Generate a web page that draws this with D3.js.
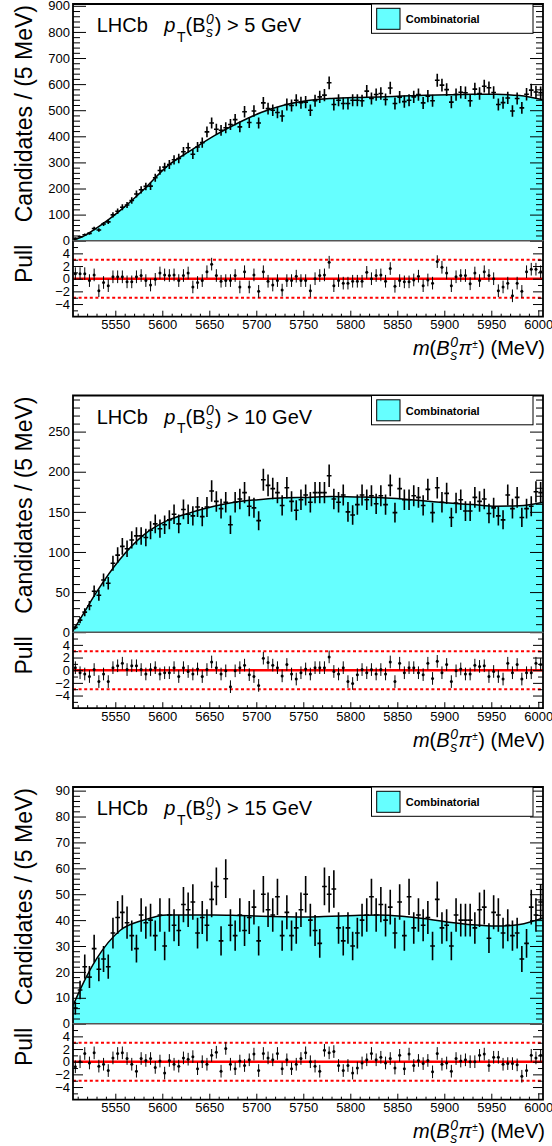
<!DOCTYPE html>
<html>
<head>
<meta charset="utf-8">
<script src="https://cdn.jsdelivr.net/npm/d3@7"></script>
<style>
  body { margin: 0; background: #fff; }
  svg { display: block; font-family: "Liberation Sans", Arial, Helvetica, sans-serif; }
</style>
</head>
<body>
<svg id="chart" width="552" height="1146"></svg>
<script>
// --- binning: 100 bins of 5 MeV from 5505 to 6005 ---
const massLo = 5505, massHi = 6005, binWidth = 5;
const binCentres = d3.range(massLo + binWidth / 2, massHi, binWidth);

// candidates per bin
const counts5 = [
  9, 15, 23, 28, 47, 41, 64, 72, 99, 113,
  128, 137, 154, 179, 195, 208, 209, 241, 269, 282,
  292, 310, 315, 341, 356, 331, 359, 376, 417, 451,
  427, 423, 433, 445, 464, 436, 494, 453, 497, 451,
  528, 506, 500, 491, 478, 522, 518, 538, 529, 531,
  500, 536, 551, 558, 605, 522, 538, 526, 526, 538,
  538, 536, 573, 545, 560, 564, 541, 585, 526, 550,
  533, 538, 551, 560, 528, 554, 536, 615, 596, 579,
  531, 560, 569, 567, 536, 581, 564, 592, 586, 568,
  522, 529, 547, 497, 545, 509, 561, 577, 570, 567
];
const counts10 = [
  6, 15, 25, 33, 51, 46, 65, 61, 86, 96,
  107, 104, 115, 120, 120, 118, 127, 135, 129, 134,
  140, 147, 135, 153, 147, 145, 156, 144, 156, 176,
  163, 154, 162, 134, 162, 166, 174, 157, 155, 139,
  190, 183, 179, 174, 158, 180, 163, 152, 165, 171,
  162, 174, 174, 174, 195, 166, 162, 171, 150, 146,
  159, 171, 165, 170, 160, 170, 159, 183, 149, 179,
  165, 165, 170, 168, 158, 178, 149, 180, 162, 173,
  143, 161, 165, 151, 151, 168, 163, 166, 148, 155,
  145, 140, 171, 154, 168, 143, 154, 157, 175, 174
];
const counts15 = [
  6, 13, 22, 18, 29, 21, 25, 22, 35, 41,
  43, 39, 34, 29, 42, 39, 40, 34, 42, 30,
  42, 38, 36, 46, 44, 47, 35, 41, 38, 48,
  53, 32, 56, 38, 34, 42, 36, 41, 45, 32,
  50, 44, 42, 49, 34, 43, 34, 37, 44, 50,
  40, 36, 31, 53, 50, 52, 37, 32, 37, 30,
  35, 40, 42, 49, 42, 46, 40, 45, 35, 47,
  34, 49, 37, 42, 38, 41, 30, 48, 37, 38,
  30, 42, 40, 40, 40, 37, 44, 45, 33, 43,
  42, 35, 38, 34, 35, 25, 31, 45, 42, 47
];

// pulls per bin
const pulls5 = [
  0.8, 0.8, 0.8, -0.3, 0.6, -1.9, -0.6, -1.1, 0.3, 0.3,
  0.3, -0.5, -0.5, 0.3, 0.5, -0.3, -1.0, -0.1, 0.9, 0.6,
  0.5, 0.6, -0.3, 0.5, 0.9, -1.3, -0.6, -0.3, 1.1, 2.3,
  0.5, -0.4, -0.3, -0.3, 0.5, -1.3, 1.1, -1.3, 0.6, -2.0,
  1.1, -0.4, -1.0, -0.3, -1.8, -0.3, -0.3, 0.4, -0.3, -0.3,
  -1.9, 0.0, 0.5, 0.6, 2.6, -1.1, -0.3, -0.7, -0.7, -0.4,
  -0.4, -0.4, 1.0, 0.0, 0.5, 0.6, -0.4, 1.6, -1.2, -0.3,
  -0.5, -0.5, -0.2, 0.4, -1.1, -0.2, -0.7, 2.7, 1.8, 0.9,
  -1.1, 0.3, 0.5, 0.5, -0.8, 0.9, -0.3, 1.1, 0.5, 0.0,
  -1.9, -1.3, -0.7, -2.7, -0.7, -2.0, 1.1, 1.5, 1.5, 1.1
];
const pulls10 = [
  0.4, -0.4, -0.6, -1.0, 0.1, -1.8, -0.6, -1.8, 0.4, 0.7,
  1.1, 0.1, 0.7, 0.7, 0.1, -0.6, 0.1, 0.4, -0.6, -0.4,
  -0.4, 0.4, -1.0, 0.4, -0.2, -0.6, 0.2, -1.0, 0.1, 1.3,
  0.4, -0.6, -0.1, -2.6, -0.1, 0.4, 0.8, -0.7, -1.0, -2.4,
  1.9, 1.2, 0.8, 0.4, -0.9, 0.9, -0.6, -1.4, -0.4, 0.2,
  -0.6, 0.4, 0.4, 0.4, 2.1, -0.2, -0.6, 0.4, -1.8, -2.1,
  -0.7, 0.1, -0.4, 0.1, -0.6, 0.1, -0.6, 1.3, -1.8, 1.1,
  -0.4, 0.4, 0.4, -0.4, -0.7, 1.1, -1.3, 1.4, -0.4, 0.9,
  -1.8, -0.1, 0.2, -0.6, -0.6, 0.8, 0.6, 0.7, -1.0, -0.2,
  -1.0, -1.4, 1.1, -0.4, 0.9, -1.4, -0.4, -0.4, 1.1, 0.9
];
const pulls15 = [
  -0.8, 0.0, 1.3, -0.2, 1.4, -0.7, -0.4, -1.4, 0.6, 1.3,
  1.4, 0.5, -0.4, -1.5, 0.5, 0.2, 0.5, -0.9, 0.1, -1.8,
  0.2, -0.4, -0.7, 0.6, 0.4, 0.8, -1.1, 0.0, -0.4, 1.0,
  1.5, -1.5, 2.1, -0.4, -1.1, 0.1, -0.6, 0.3, 1.2, -1.4,
  1.3, 0.6, 0.3, 1.3, -1.1, 0.3, -1.1, -0.4, 0.5, 1.4,
  0.0, -0.7, -1.5, 1.8, 1.4, 1.6, -0.6, -1.4, -0.6, -1.8,
  -1.0, -0.2, 0.3, 1.3, 0.3, 0.7, -0.2, 0.5, -1.0, 1.0,
  -1.1, 1.2, -0.6, 0.2, -0.3, 0.2, -1.6, 1.3, -0.4, -0.2,
  -1.5, 0.5, 0.1, 0.3, 0.0, 0.0, 1.0, 1.2, -0.6, 0.7,
  0.7, -0.4, -0.3, -0.3, -0.5, -2.3, -1.4, 1.0, 0.6, 1.0
];

// fitted combinatorial shape, sampled at these masses
const fitMass = [5505, 5515, 5530, 5555, 5580, 5605, 5630, 5655, 5680, 5705, 5730,
                 5755, 5780, 5805, 5830, 5855, 5880, 5905, 5930, 5955, 5980, 6005];
const fit5  = [2, 15, 48, 115, 195, 285, 345, 402, 450, 491, 520,
               537, 545, 549, 551, 554, 557, 559, 561, 561, 556, 540];
const fit10 = [2, 21, 50, 91, 121, 139, 149, 157, 162.5, 165.5, 167.5,
               168, 169, 168.5, 168, 166, 163.5, 161, 159, 157, 157.5, 162];
const fit15 = [7, 15, 25, 36, 40, 42, 42, 42, 41.8, 41.5, 41.3,
               41.2, 41.5, 41.8, 42, 41.5, 40.5, 39.2, 38.2, 37.7, 38.3, 40.8];

const ptCuts = ["5", "10", "15"];
const yMaxes = [907, 295, 91.4];
const yMajorSteps = [100, 50, 10];
const yMinorSteps = [20, 10, 2];
const xTickLabels = [5550, 5600, 5650, 5700, 5750, 5800, 5850, 5900, 5950, 6000];
const pullTickLabels = [4, 2, 0, -2, -4];
const legendLabel = "Combinatorial";

const panels = [
  { cut: ptCuts[0], counts: counts5, pulls: pulls5, fit: fit5 },
  { cut: ptCuts[1], counts: counts10, pulls: pulls10, fit: fit10 },
  { cut: ptCuts[2], counts: counts15, pulls: pulls15, fit: fit15 }
].map((p, k) => ({ ...p, yMax: yMaxes[k], major: yMajorSteps[k], minor: yMinorSteps[k] }));

// --- layout ---
const left = 73, right = 543;
const panelStep = 391.5, padTop = 4, mainH = 236.7, pullH = 76;
const cyan = "#66ffff";

const svg = d3.select("#chart");
const x = d3.scaleLinear().domain([massLo, massHi]).range([left, right]);

// one <text> made of tspans laid out left to right; {stack:true} reuses the previous start x
function richText(parent, parts) {
  const t = parent.append("text");
  let cursor = 0, prevStart = 0, prevEnd = 0;
  parts.forEach(pt => {
    const start = pt.stack ? prevStart : cursor + (pt.gap || 0);
    const s = t.append("tspan")
      .attr("x", start).attr("y", pt.dy || 0)
      .attr("font-size", pt.size)
      .text(pt.t);
    if (pt.italic) s.attr("font-style", "italic");
    const end = start + s.node().getComputedTextLength();
    cursor = pt.stack ? Math.max(prevEnd, end) : end;
    prevStart = start; prevEnd = end;
  });
  return { node: t, width: cursor };
}

panels.forEach((p, k) => {
  const oy = padTop + k * panelStep;
  const yBase = oy + mainH;
  const yBottom = yBase + pullH;
  const y = d3.scaleLinear().domain([0, p.yMax]).range([yBase, oy]);
  const yp = d3.scaleLinear().domain([-6, 6]).range([yBottom, yBase]);

  const clipId = "clip" + k;
  svg.append("clipPath").attr("id", clipId)
    .append("rect").attr("x", left).attr("y", oy).attr("width", right - left).attr("height", mainH);

  const fitPts = fitMass.map((m, i) => [m, p.fit[i]]);
  const main = svg.append("g").attr("clip-path", `url(#${clipId})`);

  main.append("path")
    .datum(fitPts)
    .attr("fill", cyan)
    .attr("d", d3.area().x(d => x(d[0])).y0(yBase).y1(d => y(d[1])).curve(d3.curveMonotoneX));

  main.append("path")
    .datum(fitPts)
    .attr("fill", "none")
    .attr("stroke", "#000")
    .attr("stroke-width", 1.5)
    .attr("d", d3.line().x(d => x(d[0])).y(d => y(d[1])).curve(d3.curveMonotoneX));

  // data points with Poisson errors and bin-width bars
  const pts = main.append("g").attr("stroke", "#000").attr("stroke-width", 1.6);
  p.counts.forEach((c, i) => {
    const m = binCentres[i], e = Math.sqrt(c);
    pts.append("line").attr("x1", x(m)).attr("x2", x(m)).attr("y1", y(c - e)).attr("y2", y(c + e));
    pts.append("line").attr("x1", x(m - binWidth / 2)).attr("x2", x(m + binWidth / 2)).attr("y1", y(c)).attr("y2", y(c));
  });

  // pull pad reference lines
  svg.append("line").attr("x1", left).attr("x2", right).attr("y1", yp(0)).attr("y2", yp(0))
    .attr("stroke", "#ff0000").attr("stroke-width", 2.5);
  [3, -3].forEach(v => {
    svg.append("line").attr("x1", left).attr("x2", right).attr("y1", yp(v)).attr("y2", yp(v))
      .attr("stroke", "#ff0000").attr("stroke-width", 2).attr("stroke-dasharray", "3,2.6");
  });

  const pp = svg.append("g");
  p.pulls.forEach((v, i) => {
    const m = binCentres[i];
    pp.append("line").attr("x1", x(m)).attr("x2", x(m)).attr("y1", yp(v - 1)).attr("y2", yp(v + 1))
      .attr("stroke", "#000").attr("stroke-width", 1);
    pp.append("circle").attr("cx", x(m)).attr("cy", yp(v)).attr("r", 1.5).attr("fill", "#000");
  });

  // main y axis (ticks inside, on both sides)
  const majors = d3.range(0, p.yMax, p.major);
  const minors = d3.range(0, p.yMax, p.minor).filter(v => v % p.major !== 0);
  const axL = svg.append("g").attr("transform", `translate(${left},0)`)
    .call(d3.axisLeft(y).tickValues(majors).tickSize(-13).tickPadding(3).tickSizeOuter(0));
  axL.selectAll(".tick text").attr("font-size", 13).attr("fill", "#000");
  axL.select(".domain").remove();
  svg.append("g").attr("transform", `translate(${left},0)`)
    .call(d3.axisLeft(y).tickValues(minors).tickSize(-7).tickFormat("").tickSizeOuter(0))
    .select(".domain").remove();
  svg.append("g").attr("transform", `translate(${right},0)`)
    .call(d3.axisRight(y).tickValues(majors).tickSize(-13).tickFormat("").tickSizeOuter(0))
    .select(".domain").remove();
  svg.append("g").attr("transform", `translate(${right},0)`)
    .call(d3.axisRight(y).tickValues(minors).tickSize(-7).tickFormat("").tickSizeOuter(0))
    .select(".domain").remove();

  // pull y axis
  const pullMinor = [-5, -3, -1, 1, 3, 5];
  const apl = svg.append("g").attr("transform", `translate(${left},0)`)
    .call(d3.axisLeft(yp).tickValues(pullTickLabels).tickSize(-10).tickPadding(3).tickSizeOuter(0)
      .tickFormat(d => d < 0 ? "\u2212" + Math.abs(d) : d));
  apl.selectAll(".tick text").attr("font-size", 13).attr("fill", "#000");
  apl.select(".domain").remove();
  svg.append("g").attr("transform", `translate(${left},0)`)
    .call(d3.axisLeft(yp).tickValues(pullMinor).tickSize(-5).tickFormat("").tickSizeOuter(0))
    .select(".domain").remove();
  svg.append("g").attr("transform", `translate(${right},0)`)
    .call(d3.axisRight(yp).tickValues(pullTickLabels).tickSize(-10).tickFormat("").tickSizeOuter(0))
    .select(".domain").remove();
  svg.append("g").attr("transform", `translate(${right},0)`)
    .call(d3.axisRight(yp).tickValues(pullMinor).tickSize(-5).tickFormat("").tickSizeOuter(0))
    .select(".domain").remove();

  // x axis on pull pad
  const xMinor = d3.range(5510, massHi, 10).filter(v => v % 50 !== 0);
  const ax = svg.append("g").attr("transform", `translate(0,${yBottom})`)
    .call(d3.axisBottom(x).tickValues(xTickLabels).tickSize(-6).tickPadding(3.5).tickSizeOuter(0).tickFormat(d3.format("d")));
  ax.selectAll(".tick text").attr("font-size", 13).attr("fill", "#000");
  ax.select(".domain").remove();
  svg.append("g").attr("transform", `translate(0,${yBottom})`)
    .call(d3.axisBottom(x).tickValues(xMinor).tickSize(-3).tickFormat("").tickSizeOuter(0))
    .select(".domain").remove();

  // frames
  svg.append("path")
    .attr("d", `M${left},${yBase}V${oy}H${right}V${yBase}`)
    .attr("fill", "none").attr("stroke", "#000").attr("stroke-width", 1.8);
  svg.append("path")
    .attr("d", `M${left},${yBase}V${yBottom}H${right}V${yBase}`)
    .attr("fill", "none").attr("stroke", "#000").attr("stroke-width", 1.8);
  svg.append("line").attr("x1", left).attr("x2", right).attr("y1", yBase).attr("y2", yBase)
    .attr("stroke", "#555").attr("stroke-width", 1.6);

  // axis titles
  svg.append("text")
    .attr("transform", `translate(32,${oy + 1}) rotate(-90)`)
    .attr("text-anchor", "end").attr("font-size", 23)
    .text("Candidates / (5 MeV)");
  svg.append("text")
    .attr("transform", `translate(32,${yBase + 4}) rotate(-90)`)
    .attr("text-anchor", "end").attr("font-size", 23)
    .text("Pull");

  const xt = richText(svg, [
    { t: "m", size: 20, italic: true },
    { t: "(", size: 20 },
    { t: "B", size: 20, italic: true },
    { t: "s", size: 14, italic: true, dy: 5, gap: 0.5 },
    { t: "0", size: 14, italic: true, dy: -8, stack: true },
    { t: "\u03c0", size: 20, italic: true, gap: 0.5 },
    { t: "\u00b1", size: 10, dy: -7, gap: 0.5 },
    { t: ") (MeV)", size: 20, gap: 0.5 }
  ]);
  xt.node.attr("transform", `translate(${545 - xt.width},${oy + 351})`);

  // LHCb label
  const lab = richText(svg, [
    { t: "LHCb", size: 20 },
    { t: "p", size: 20, italic: true, gap: 16.5 },
    { t: "T", size: 14, dy: 9.5, gap: 1.5 },
    { t: "(B", size: 20 },
    { t: "s", size: 14, italic: true, dy: 5, gap: 0.5 },
    { t: "0", size: 14, italic: true, dy: -8.5, stack: true },
    { t: `) > ${p.cut} GeV`, size: 20, gap: 1 }
  ]);
  lab.node.attr("transform", `translate(96.7,${oy + 28.3})`);

  // legend
  svg.append("rect").attr("x", 371.5).attr("y", oy).attr("width", 161.5).attr("height", 29.3)
    .attr("fill", "#fff").attr("stroke", "#000").attr("stroke-width", 1);
  svg.append("rect").attr("x", 376.7).attr("y", oy + 4.3).attr("width", 23.3).attr("height", 21)
    .attr("fill", cyan).attr("stroke", "#000").attr("stroke-width", 1);
  svg.append("text").attr("x", 405.7).attr("y", oy + 19.3)
    .attr("font-size", 11).attr("font-weight", "bold").text(legendLabel);
});
</script>
</body>
</html>
